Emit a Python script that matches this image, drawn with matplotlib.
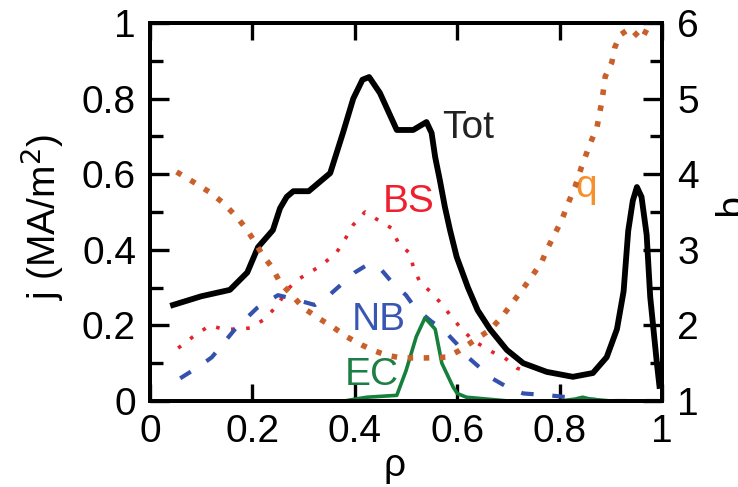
import matplotlib
matplotlib.use("Agg")
import matplotlib.pyplot as plt
from matplotlib.ticker import MultipleLocator, NullLocator, FuncFormatter

plt.rcParams["font.family"] = ["Liberation Sans", "DejaVu Sans"]

# total current density
rho_tot = [0.045, 0.10, 0.156, 0.19, 0.211, 0.24, 0.254, 0.267, 0.28, 0.31, 0.352,
           0.377, 0.397, 0.415, 0.428, 0.449, 0.482, 0.514, 0.54, 0.55, 0.557, 0.566,
           0.576, 0.586, 0.599, 0.621, 0.64, 0.664, 0.697, 0.729, 0.775, 0.826, 0.865,
           0.892, 0.912, 0.925, 0.934, 0.943, 0.951, 0.96, 0.97, 0.977, 0.99, 0.995]
j_tot = [0.254, 0.277, 0.294, 0.34, 0.407, 0.452, 0.51, 0.54, 0.555, 0.555, 0.603,
         0.71, 0.80, 0.85, 0.857, 0.815, 0.717, 0.717, 0.738, 0.709, 0.645, 0.585,
         0.513, 0.452, 0.381, 0.30, 0.24, 0.19, 0.135, 0.10, 0.077, 0.064, 0.074,
         0.116, 0.19, 0.29, 0.45, 0.53, 0.566, 0.54, 0.44, 0.275, 0.10, 0.04]

# bootstrap current
rho_bs = [0.055, 0.084, 0.117, 0.143, 0.17, 0.195, 0.221, 0.25, 0.265, 0.287, 0.312,
          0.336, 0.365, 0.384, 0.397, 0.42, 0.445, 0.472, 0.485, 0.508, 0.514, 0.527,
          0.547, 0.566, 0.586, 0.605, 0.631, 0.668, 0.693, 0.717, 0.74]
j_bs = [0.14, 0.17, 0.20, 0.19, 0.19, 0.193, 0.214, 0.254, 0.29, 0.32, 0.34,
        0.36, 0.394, 0.435, 0.466, 0.50, 0.479, 0.457, 0.418, 0.39, 0.355, 0.315,
        0.29, 0.262, 0.228, 0.196, 0.16, 0.13, 0.114, 0.087, 0.075]

# neutral beam current
rho_nb = [0.059, 0.10, 0.121, 0.166, 0.209, 0.25, 0.28, 0.322, 0.35, 0.375, 0.40,
          0.424, 0.45, 0.472, 0.50, 0.518, 0.55, 0.572, 0.60, 0.62, 0.668, 0.70,
          0.729, 0.78, 0.85, 0.9, 1.0]
j_nb = [0.06, 0.095, 0.116, 0.19, 0.246, 0.28, 0.27, 0.254, 0.28, 0.31, 0.34,
        0.36, 0.35, 0.315, 0.28, 0.246, 0.21, 0.19, 0.15, 0.117, 0.06, 0.035,
        0.02, 0.015, 0.005, 0.0, 0.0]

# electron cyclotron current
rho_ec = [0.0, 0.38, 0.40, 0.424, 0.482, 0.50, 0.52, 0.537, 0.557, 0.57, 0.592,
          0.60, 0.618, 0.7, 0.8, 0.83, 0.845, 0.86, 0.9, 1.0]
j_ec = [0.0, 0.0, 0.005, 0.01, 0.015, 0.08, 0.17, 0.22, 0.19, 0.10, 0.037,
        0.02, 0.01, 0.0, 0.0, 0.005, 0.01, 0.005, 0.0, 0.0]

# safety factor
rho_q = [0.052, 0.084, 0.117, 0.143, 0.17, 0.19, 0.205, 0.22, 0.238, 0.254, 0.277,
         0.30, 0.328, 0.357, 0.384, 0.414, 0.436, 0.46, 0.49, 0.54, 0.58, 0.605,
         0.635, 0.664, 0.687, 0.709, 0.729, 0.748, 0.765, 0.778, 0.804, 0.817, 0.83,
         0.843, 0.86, 0.873, 0.883, 0.889, 0.902, 0.908, 0.918, 0.9375, 0.96, 0.973, 0.99]
q_prof = [4.03, 3.9, 3.76, 3.62, 3.43, 3.26, 3.10, 2.93, 2.77, 2.57, 2.40,
          2.23, 2.10, 1.98, 1.85, 1.74, 1.67, 1.61, 1.57, 1.57, 1.58, 1.67,
          1.81, 1.94, 2.11, 2.31, 2.49, 2.67, 2.84, 3.04, 3.39, 3.62, 3.83,
          4.1, 4.41, 4.62, 4.98, 5.29, 5.48, 5.68, 5.84, 5.93, 5.78, 5.95, 6.3]

x_ticks = [0, 0.2, 0.4, 0.6, 0.8, 1]
j_ticks = [0, 0.2, 0.4, 0.6, 0.8, 1]
q_ticks = [1, 2, 3, 4, 5, 6]

FS = 28
C_TOT = "black"
C_BS = "#e3242b"
C_NB = "#3452ad"
C_EC = "#14803c"
C_Q = "#c9602a"

fig = plt.figure(figsize=(7.38, 4.87), dpi=100)
ax = fig.add_axes([150 / 738, 1 - 401 / 487, 512 / 738, 378 / 487])
ax2 = ax.twinx()

ax.plot(rho_bs, j_bs, color=C_BS, lw=2.6, ls=(0, (1, 3.2)), zorder=3)
ax.plot(rho_nb, j_nb, color=C_NB, lw=3.0, ls=(0, (3, 4.5)), zorder=3)
ax.plot(rho_ec, j_ec, color=C_EC, lw=2.6, zorder=3)
ax.plot(rho_tot, j_tot, color=C_TOT, lw=4.2, zorder=4)
ax2.plot(rho_q, q_prof, color=C_Q, lw=4.0, ls=(0, (1, 1.9)))

ax.set_xlim(0, 1)
ax.set_ylim(0, 1)
ax2.set_ylim(1, 6)
ax.set_xticks(x_ticks)
ax.set_yticks(j_ticks)
ax2.set_yticks(q_ticks)
ax.xaxis.set_minor_locator(NullLocator())
ax.yaxis.set_minor_locator(MultipleLocator(0.1))
ax2.yaxis.set_minor_locator(MultipleLocator(0.5))
fmt = FuncFormatter(lambda v, p: f"{v:g}")
ax.xaxis.set_major_formatter(fmt)
ax.yaxis.set_major_formatter(fmt)
ax2.yaxis.set_major_formatter(fmt)

ax.tick_params(axis="y", which="major", direction="in", length=14, width=2.4,
               right=False, labelsize=FS, pad=10)
ax.tick_params(axis="y", which="minor", direction="in", length=9, width=2.4, right=False)
ax.tick_params(axis="x", which="major", direction="in", length=12, width=2.4,
               top=True, labelsize=FS, pad=9)
ax2.tick_params(axis="y", which="major", direction="in", length=14, width=2.4,
                labelsize=FS, pad=11)
ax2.tick_params(axis="y", which="minor", direction="in", length=9, width=2.4)
for a in (ax, ax2):
    for s in a.spines.values():
        s.set_linewidth(2.8)

# curve labels
ax.text(0.570, 0.696, "Tot", color="#222222", fontsize=FS, va="baseline")
ax.text(0.455, 0.50, "BS", color="#ee2030", fontsize=FS, va="baseline")
ax.text(0.83, 0.54, "q", color="#f5902a", fontsize=FS, va="baseline")
ax.text(0.395, 0.188, "NB", color="#3a56b3", fontsize=FS, va="baseline", zorder=2)
ax.text(0.381, 0.042, "EC", color="#1d7f45", fontsize=FS, va="baseline", zorder=2)

fig.text(42 / 738, 1 - 217 / 487, "j (MA/m$^2$)", rotation=90, fontsize=FS,
         ha="center", va="center")
fig.text(395 / 738, 1 - 476 / 487, "ρ", fontsize=FS, ha="center", va="baseline")
fig.text(712 / 738, 1 - 208 / 487, "q", rotation=270, fontsize=FS,
         ha="left", va="center")

fig.savefig("out.png", dpi=100)
